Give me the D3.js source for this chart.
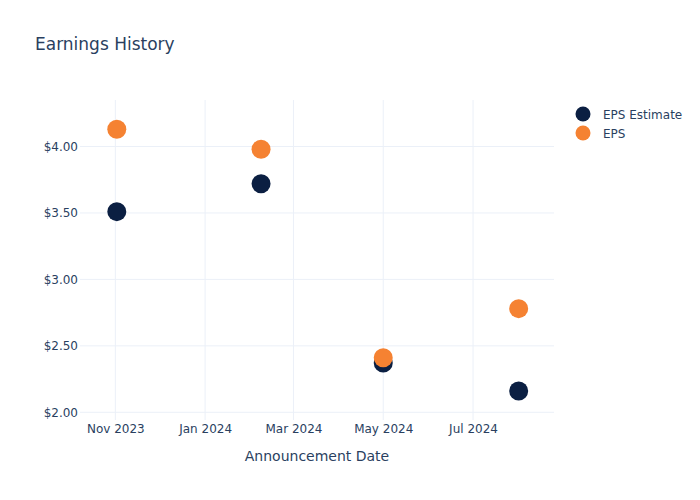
<!DOCTYPE html>
<html>
<head>
<meta charset="utf-8">
<script src="https://cdn.jsdelivr.net/npm/d3@7"></script>
<style>
  html, body { margin: 0; padding: 0; background: #fff; }
  svg { font-family: "DejaVu Sans", Verdana, sans-serif; }
</style>
</head>
<body>
<svg id="chart" width="700" height="500"></svg>
<script>
const dates = ["2023-11-02", "2024-02-08", "2024-05-01", "2024-08-01"];
const epsEstimate = [3.51, 3.72, 2.37, 2.16];
const eps = [4.13, 3.98, 2.41, 2.78];
const yTicks = [2.0, 2.5, 3.0, 3.5, 4.0];
const xTickDates = ["2023-11-01", "2024-01-01", "2024-03-01", "2024-05-01", "2024-07-01"];
const seriesNames = ["EPS Estimate", "EPS"];

const W = 700, H = 500;
const m = { l: 80, r: 146, t: 100, b: 80 };
const textColor = "#2a3f5f";
const gridColor = "#ebf0f8";
const colors = ["#0b1f42", "#f58232"];

const parse = d3.utcParse("%Y-%m-%d");
const svg = d3.select("#chart");

const x = d3.scaleUtc()
  .domain([parse("2023-10-08"), parse("2024-08-25")])
  .range([m.l, W - m.r]);
const y = d3.scaleLinear()
  .domain([1.942, 4.35])
  .range([H - m.b, m.t]);

// gridlines
const g = svg.append("g");
g.selectAll(".vg").data(xTickDates).enter().append("line")
  .attr("x1", d => x(parse(d))).attr("x2", d => x(parse(d)))
  .attr("y1", m.t).attr("y2", H - m.b)
  .attr("stroke", gridColor).attr("stroke-width", 1);
g.selectAll(".hg").data(yTicks).enter().append("line")
  .attr("x1", m.l).attr("x2", W - m.r)
  .attr("y1", d => y(d)).attr("y2", d => y(d))
  .attr("stroke", gridColor).attr("stroke-width", 1);

// y axis
const yAxis = d3.axisLeft(y).tickValues(yTicks).tickSize(0).tickPadding(2)
  .tickFormat(d => "$" + d3.format(".2f")(d));
const ya = svg.append("g").attr("transform", `translate(${m.l},0)`).call(yAxis);
ya.select(".domain").remove();
ya.selectAll("text").attr("fill", textColor).style("font-size", "12px")
  .style("font-family", "DejaVu Sans, sans-serif");

// x axis
const xAxis = d3.axisBottom(x).tickValues(xTickDates.map(parse)).tickSize(0).tickPadding(4)
  .tickFormat(d3.utcFormat("%b %Y"));
const xa = svg.append("g").attr("transform", `translate(0,${H - m.b})`).call(xAxis);
xa.select(".domain").remove();
xa.selectAll("text").attr("fill", textColor).style("font-size", "12px")
  .style("font-family", "DejaVu Sans, sans-serif");

// axis title
svg.append("text").attr("x", x.range()[0] + (x.range()[1] - x.range()[0]) / 2).attr("y", 461)
  .attr("text-anchor", "middle").attr("fill", textColor).style("font-size", "14px")
  .text("Announcement Date");

// title
svg.append("text").attr("x", 35).attr("y", 50).attr("fill", textColor)
  .style("font-size", "17px").text("Earnings History");

// points
const series = [epsEstimate, eps];
series.forEach((vals, si) => {
  svg.append("g").selectAll("circle").data(vals).enter().append("circle")
    .attr("cx", (d, i) => x(parse(dates[i])))
    .attr("cy", d => y(d))
    .attr("r", 9.5)
    .attr("fill", colors[si]);
});

// legend
const leg = svg.append("g");
seriesNames.forEach((n, i) => {
  const ly = 114 + i * 19;
  leg.append("circle").attr("cx", 583).attr("cy", ly).attr("r", 7.5).attr("fill", colors[i]);
  leg.append("text").attr("x", 603).attr("y", ly + 4.5).attr("fill", textColor)
    .style("font-size", "12px").text(n);
});
</script>
</body>
</html>
